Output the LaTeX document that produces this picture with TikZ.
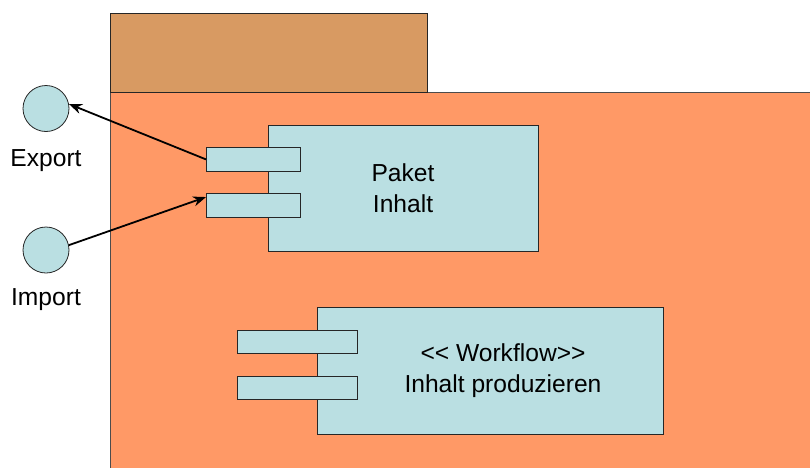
\documentclass[tikz,border=0pt]{standalone}
\usepackage{fontspec}
\setmainfont{Liberation Sans}
\usetikzlibrary{arrows.meta}
\definecolor{tabc}{HTML}{D89A62}
\definecolor{bodyc}{HTML}{FF9966}
\definecolor{compc}{HTML}{BADFE2}
\tikzset{
  box/.style={draw=black!85, line width=0.8pt, fill=compc, rectangle, inner sep=0pt, anchor=north west},
  iface/.style={draw=black!85, line width=0.8pt, fill=compc, circle, inner sep=0pt, minimum size=46pt},
  lbl/.style={font=\fontsize{24.6}{31}\selectfont, align=center, inner sep=0pt},
  conn/.style={line width=1.8pt, -{Stealth[length=13pt,width=10pt]}}
}
\begin{document}
\begin{tikzpicture}[x=1pt,y=-1pt]
\useasboundingbox (0,0) rectangle (810,467);
% package body and tab
\node[box, fill=bodyc, draw=black!70, minimum width=720pt, minimum height=390pt] (pkg) at (110,92) {};
\node[box, fill=tabc, minimum width=317pt, minimum height=79pt] (tab) at (110,13) {};
% component 1
\node[box, minimum width=270pt, minimum height=126pt] (c1) at (268,125) {};
\node[box, minimum width=94pt, minimum height=24pt] (p1) at (206,147) {};
\node[box, minimum width=94pt, minimum height=24pt] (p2) at (206,193) {};
\node[lbl] (t1) at (403,188) {Paket\\Inhalt};
% component 2
\node[box, minimum width=346pt, minimum height=127pt] (c2) at (317,307) {};
\node[box, minimum width=120pt, minimum height=23pt] (q1) at (237,330) {};
\node[box, minimum width=120pt, minimum height=23pt] (q2) at (237,376) {};
\node[lbl] (t2) at (503,371) {<{}< Workflow>{}>\\Inhalt produzieren};
% interfaces
\node[iface] (exp) at (46,108.5) {};
\node[iface] (imp) at (46,250) {};
\node[lbl, anchor=base] (expl) at (46,166) {Export};
\node[lbl, anchor=base] (impl) at (46,305) {Import};
% connectors
\draw[conn] (p1.west) -- (exp.11);
\draw[conn] (imp.12) -- (p2.170);
\end{tikzpicture}
\end{document}
